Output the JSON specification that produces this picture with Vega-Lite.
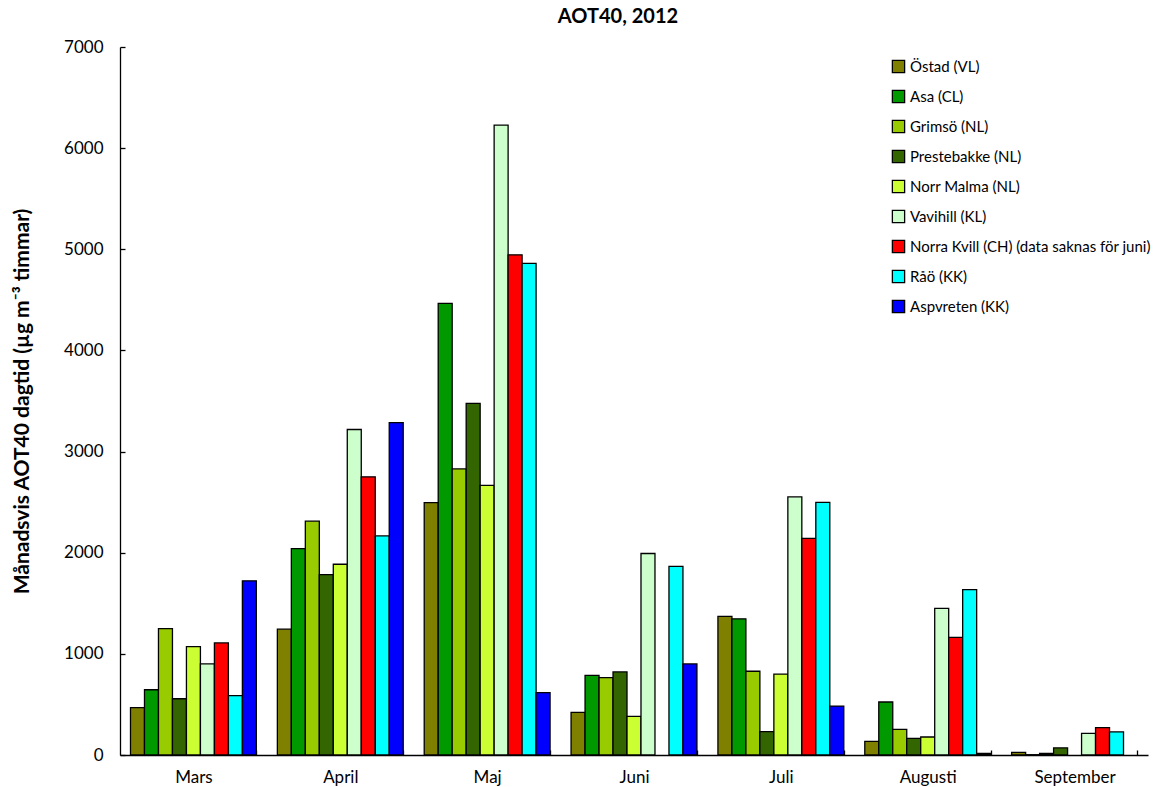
{
  "$schema": "https://vega.github.io/schema/vega-lite/v6.json",
  "autosize": {"type": "none"},
  "padding": {"left": 120, "top": 47, "right": 16, "bottom": 32},
  "width": 1028,
  "height": 708,
  "background": "white",
  "title": {"text": "AOT40, 2012", "font": "Lato", "fontSize": 20, "fontWeight": "bold", "color": "black", "anchor": "middle", "frame": "group", "dx": -16, "offset": 11},
  "config": {
    "view": {"stroke": null},
    "font": "Lato"
  },
  "data": {"values": [
    {"month": "Mars", "station": "Östad (VL)", "value": 468},
    {"month": "Mars", "station": "Asa (CL)", "value": 645},
    {"month": "Mars", "station": "Grimsö (NL)", "value": 1250},
    {"month": "Mars", "station": "Prestebakke (NL)", "value": 556},
    {"month": "Mars", "station": "Norr Malma (NL)", "value": 1072},
    {"month": "Mars", "station": "Vavihill (KL)", "value": 900},
    {"month": "Mars", "station": "Norra Kvill (CH) (data saknas för juni)", "value": 1108},
    {"month": "Mars", "station": "Råö (KK)", "value": 588},
    {"month": "Mars", "station": "Aspvreten (KK)", "value": 1722},
    {"month": "April", "station": "Östad (VL)", "value": 1244},
    {"month": "April", "station": "Asa (CL)", "value": 2040},
    {"month": "April", "station": "Grimsö (NL)", "value": 2312},
    {"month": "April", "station": "Prestebakke (NL)", "value": 1784},
    {"month": "April", "station": "Norr Malma (NL)", "value": 1886},
    {"month": "April", "station": "Vavihill (KL)", "value": 3218},
    {"month": "April", "station": "Norra Kvill (CH) (data saknas för juni)", "value": 2750},
    {"month": "April", "station": "Råö (KK)", "value": 2166},
    {"month": "April", "station": "Aspvreten (KK)", "value": 3286},
    {"month": "Maj", "station": "Östad (VL)", "value": 2495},
    {"month": "Maj", "station": "Asa (CL)", "value": 4465},
    {"month": "Maj", "station": "Grimsö (NL)", "value": 2828},
    {"month": "Maj", "station": "Prestebakke (NL)", "value": 3476},
    {"month": "Maj", "station": "Norr Malma (NL)", "value": 2665},
    {"month": "Maj", "station": "Vavihill (KL)", "value": 6228},
    {"month": "Maj", "station": "Norra Kvill (CH) (data saknas för juni)", "value": 4945},
    {"month": "Maj", "station": "Råö (KK)", "value": 4860},
    {"month": "Maj", "station": "Aspvreten (KK)", "value": 616},
    {"month": "Juni", "station": "Östad (VL)", "value": 422},
    {"month": "Juni", "station": "Asa (CL)", "value": 788},
    {"month": "Juni", "station": "Grimsö (NL)", "value": 765},
    {"month": "Juni", "station": "Prestebakke (NL)", "value": 821},
    {"month": "Juni", "station": "Norr Malma (NL)", "value": 382},
    {"month": "Juni", "station": "Vavihill (KL)", "value": 1992},
    {"month": "Juni", "station": "Råö (KK)", "value": 1864},
    {"month": "Juni", "station": "Aspvreten (KK)", "value": 900},
    {"month": "Juli", "station": "Östad (VL)", "value": 1370},
    {"month": "Juli", "station": "Asa (CL)", "value": 1346},
    {"month": "Juli", "station": "Grimsö (NL)", "value": 828},
    {"month": "Juli", "station": "Prestebakke (NL)", "value": 232},
    {"month": "Juli", "station": "Norr Malma (NL)", "value": 800},
    {"month": "Juli", "station": "Vavihill (KL)", "value": 2552},
    {"month": "Juli", "station": "Norra Kvill (CH) (data saknas för juni)", "value": 2142},
    {"month": "Juli", "station": "Råö (KK)", "value": 2498},
    {"month": "Juli", "station": "Aspvreten (KK)", "value": 484},
    {"month": "Augusti", "station": "Östad (VL)", "value": 135},
    {"month": "Augusti", "station": "Asa (CL)", "value": 524},
    {"month": "Augusti", "station": "Grimsö (NL)", "value": 254},
    {"month": "Augusti", "station": "Prestebakke (NL)", "value": 165},
    {"month": "Augusti", "station": "Norr Malma (NL)", "value": 178},
    {"month": "Augusti", "station": "Vavihill (KL)", "value": 1450},
    {"month": "Augusti", "station": "Norra Kvill (CH) (data saknas för juni)", "value": 1163},
    {"month": "Augusti", "station": "Råö (KK)", "value": 1636},
    {"month": "Augusti", "station": "Aspvreten (KK)", "value": 15},
    {"month": "September", "station": "Östad (VL)", "value": 26},
    {"month": "September", "station": "Asa (CL)", "value": 3},
    {"month": "September", "station": "Grimsö (NL)", "value": 15},
    {"month": "September", "station": "Prestebakke (NL)", "value": 70},
    {"month": "September", "station": "Vavihill (KL)", "value": 214},
    {"month": "September", "station": "Norra Kvill (CH) (data saknas för juni)", "value": 270},
    {"month": "September", "station": "Råö (KK)", "value": 228}
  ]},
  "mark": {"type": "bar", "stroke": "black", "strokeWidth": 1.3},
  "encoding": {
    "x": {
      "field": "month", "type": "nominal",
      "sort": ["Mars", "April", "Maj", "Juni", "Juli", "Augusti", "September"],
      "scale": {"paddingInner": 0.143, "paddingOuter": 0.0715},
      "axis": {
        "title": null, "labelAngle": 0, "labelFont": "Lato", "labelFontSize": 17, "labelColor": "black",
        "tickBand": "extent", "tickSize": -5, "tickColor": "black", "tickWidth": 1.3,
        "domainColor": "black", "domainWidth": 1.3, "labelPadding": 19
      }
    },
    "xOffset": {
      "field": "station", "type": "nominal",
      "sort": ["Östad (VL)", "Asa (CL)", "Grimsö (NL)", "Prestebakke (NL)", "Norr Malma (NL)", "Vavihill (KL)", "Norra Kvill (CH) (data saknas för juni)", "Råö (KK)", "Aspvreten (KK)"],
      "scale": {"domain": ["Östad (VL)", "Asa (CL)", "Grimsö (NL)", "Prestebakke (NL)", "Norr Malma (NL)", "Vavihill (KL)", "Norra Kvill (CH) (data saknas för juni)", "Råö (KK)", "Aspvreten (KK)"]}
    },
    "y": {
      "field": "value", "type": "quantitative",
      "scale": {"domain": [0, 7000], "nice": false},
      "axis": {
        "title": "Månadsvis AOT40 dagtid (µg m⁻³ timmar)",
        "titleFont": "Lato", "titleFontSize": 21, "titleFontWeight": "bold", "titleColor": "black",
        "titleX": -88,
        "values": [0, 1000, 2000, 3000, 4000, 5000, 6000, 7000], "format": "d",
        "grid": false, "labelFont": "Lato", "labelFontSize": 17, "labelColor": "black",
        "tickSize": -5, "tickColor": "black", "tickWidth": 1.3,
        "domainColor": "black", "domainWidth": 1.3, "labelPadding": 22
      }
    },
    "color": {
      "field": "station", "type": "nominal",
      "scale": {
        "domain": ["Östad (VL)", "Asa (CL)", "Grimsö (NL)", "Prestebakke (NL)", "Norr Malma (NL)", "Vavihill (KL)", "Norra Kvill (CH) (data saknas för juni)", "Råö (KK)", "Aspvreten (KK)"],
        "range": ["#808000", "#009900", "#99CC00", "#336600", "#CCFF33", "#CCFFCC", "#FF0000", "#00FFFF", "#0000FF"]
      },
      "legend": {
        "title": null, "orient": "none", "legendX": 771, "legendY": 12,
        "symbolType": "square", "symbolSize": 150, "symbolStrokeColor": "black", "symbolStrokeWidth": 1.3,
        "labelFont": "Lato", "labelFontSize": 15, "labelColor": "black", "labelOffset": 4,
        "rowPadding": 11, "labelLimit": 400
      }
    }
  }
}
